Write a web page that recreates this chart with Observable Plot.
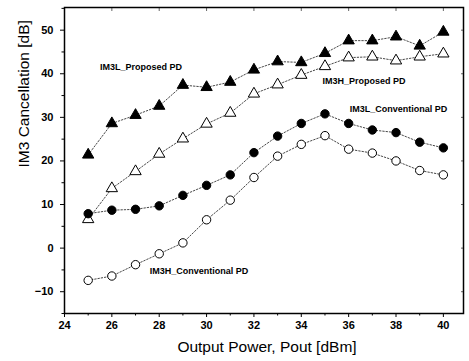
<!DOCTYPE html>
<html>
<head>
<meta charset="utf-8">
<script src="https://cdn.jsdelivr.net/npm/d3@7"></script>
<script src="https://cdn.jsdelivr.net/npm/@observablehq/plot@0.6"></script>
<style>
  html, body { margin: 0; padding: 0; background: #fff; }
  #chart svg { display: block; }
</style>
</head>
<body>
<div id="chart"></div>
<script>
// Output power (dBm)
const pout = [25, 26, 27, 28, 29, 30, 31, 32, 33, 34, 35, 36, 37, 38, 39, 40];
// IM3 cancellation (dB)
const im3lProposed     = [21.4, 28.6, 30.5, 32.6, 37.4, 36.9, 38.1, 40.9, 42.8, 42.6, 44.7, 47.6, 47.6, 48.5, 46.4, 49.6];
const im3hProposed     = [6.6, 13.7, 17.6, 21.6, 25.1, 28.5, 31.0, 35.4, 37.5, 39.7, 41.7, 43.7, 43.9, 43.0, 43.9, 44.6];
const im3lConventional = [7.9, 8.7, 8.9, 9.7, 12.1, 14.4, 16.8, 21.9, 25.7, 28.6, 30.8, 28.6, 27.1, 26.5, 24.3, 23.0];
const im3hConventional = [-7.4, -6.4, -3.8, -1.3, 1.2, 6.5, 11.0, 16.2, 21.1, 23.8, 25.8, 22.7, 21.8, 20.0, 17.8, 16.8];

const seriesNames = ["IM3L_Proposed PD", "IM3H_Proposed PD", "IM3L_Conventional PD", "IM3H_Conventional PD"];
const seriesValues = [im3lProposed, im3hProposed, im3lConventional, im3hConventional];
const seriesSymbol = ["triangle", "triangle", "circle", "circle"];
const seriesFill = ["black", "white", "black", "white"];

// annotation anchors (data units)
const labelX = [25.5, 34.9, 36.05, 27.6];
const labelY = [41.6, 38.4, 32.0, -5.3];

const xTicks = [24, 26, 28, 30, 32, 34, 36, 38, 40];
const xMinor = [25, 27, 29, 31, 33, 35, 37, 39];
const yTicks = [-10, 0, 10, 20, 30, 40, 50];
const yMinor = [-15, -5, 5, 15, 25, 35, 45, 55];

const rows = [];
seriesNames.forEach((name, i) => {
  pout.forEach((x, j) => rows.push({series: name, x, y: seriesValues[i][j], symbol: seriesSymbol[i], fill: seriesFill[i]}));
});
const labels = seriesNames.map((name, i) => ({name, x: labelX[i], y: labelY[i]}));

const font = "'Liberation Sans', Arial, Helvetica, sans-serif";

const plot = Plot.plot({
  width: 469,
  height: 361,
  marginLeft: 64,
  marginRight: 6,
  marginTop: 7,
  marginBottom: 48,
  style: {fontFamily: font, fontSize: "11px", color: "black", background: "white"},
  x: {domain: [24, 40.85]},
  y: {domain: [-15, 55.2]},
  marks: [
    Plot.frame({stroke: "black", strokeWidth: 1.5}),
    Plot.axisX({ticks: xTicks, tickSize: 4, tickPadding: 4, label: null, fontWeight: "bold", fontSize: 11}),
    Plot.axisX({ticks: xMinor, tickSize: 2.5, tickFormat: () => "", label: null}),
    Plot.axisY({ticks: yTicks, tickSize: 4, tickPadding: 7, label: null, fontWeight: "bold", fontSize: 11}),
    Plot.axisY({ticks: yMinor, tickSize: 2.5, tickFormat: () => "", label: null}),
    Plot.axisX({anchor: "top", ticks: xTicks, tickSize: -3, tickFormat: () => "", label: null, strokeOpacity: 0.6}),
    Plot.axisY({anchor: "right", ticks: yTicks, tickSize: -3, tickFormat: () => "", label: null, strokeOpacity: 0.6}),
    Plot.line(rows, {x: "x", y: "y", z: "series", stroke: "#333", strokeWidth: 0.9, strokeDasharray: "1.5,1.8"}),
    Plot.dot(rows, {x: "x", y: "y", symbol: "symbol", fill: "fill", stroke: "black", strokeWidth: 1, r: 4.2}),
    Plot.text(labels, {x: "x", y: "y", text: "name", textAnchor: "start", fontSize: 9, fontWeight: "bold", fill: "black"}),
    Plot.text(["IM3 Cancellation [dB]"], {frameAnchor: "left", dx: -40, dy: 7, rotate: -90, fontSize: 15.5}),
    Plot.text(["Output Power, Pout [dBm]"], {frameAnchor: "bottom", dx: 3, dy: 38, fontSize: 15.5})
  ]
});
document.getElementById("chart").appendChild(plot);
</script>
</body>
</html>
